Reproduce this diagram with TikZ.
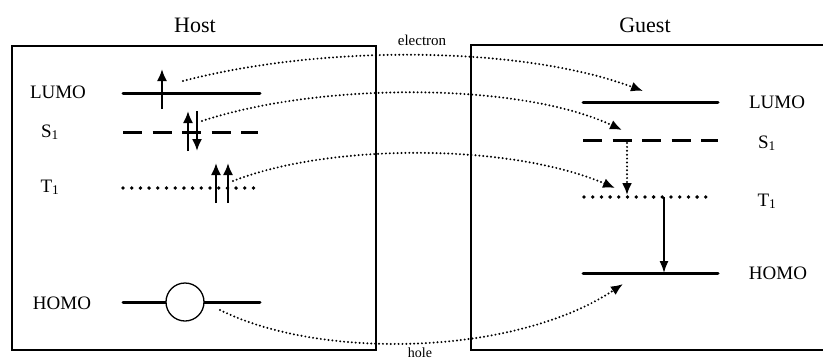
\documentclass[tikz,border=0pt]{standalone}
\usepackage{fontspec}
\setmainfont{Liberation Serif}
\usetikzlibrary{arrows.meta}
\begin{document}
\begin{tikzpicture}[x=1pt,y=-1pt,
  box/.style={line width=1.5pt},
  lvl/.style={line width=3pt, line cap=round},
  lvldash/.style={line width=3pt, dash pattern=on 19pt off 10.5pt},
  lvldot/.style={line width=3.8pt, line cap=round, dash pattern=on 0pt off 8.7pt},
  spin/.style={line width=2pt, -{Latex[length=12pt,width=10pt]}},
  transfer/.style={line width=2.2pt, line cap=round, dash pattern=on 0pt off 3.9pt, -{Latex[length=12pt,width=10pt]}},
  decay/.style={line width=1.6pt, -{Latex[length=12pt,width=9pt]}},
  lab/.style={font=\fontsize{19}{21}\selectfont, inner sep=0pt},
  ttl/.style={font=\fontsize{22}{24}\selectfont, inner sep=0pt},
  small/.style={font=\fontsize{15}{17}\selectfont, inner sep=0pt}
]
\useasboundingbox (0,0) rectangle (823,362);
\clip (0,0) rectangle (823,362);
\fill[white] (0,0) rectangle (823,362);

% boxes
\draw[box] (12,46) rectangle (376,350);
\draw[box] (835,45) -- (471,45) -- (471,350) -- (835,350);

% titles
\node[ttl] (host) at (195,25) {Host};
\node[ttl] (guest) at (645,25) {Guest};
\node[small] (electron) at (422,40) {electron};
\node[small, font=\fontsize{14}{15}\selectfont, anchor=base] (hole) at (420,357.5) {hole};

% host levels
\draw[lvl] (123,93) -- (260,93);
\draw[lvldash] (123,132) -- (258,132);
\draw[lvldot] (123,188) -- (254,188);
\draw[lvl] (123,302) -- (260,302);
\node[draw, circle, fill=white, line width=1.3pt, minimum size=38pt, inner sep=0pt] (holecirc) at (185,302) {};

% host labels
\node[lab] (hL) at (58,92) {LUMO};
\node[lab, anchor=base] (hS) at (50,137) {S\textsubscript{1}};
\node[lab, anchor=base] (hT) at (50,192) {T\textsubscript{1}};
\node[lab] (hH) at (62,303) {HOMO};

% guest levels
\draw[lvl] (583,102) -- (718,102);
\draw[lvldash] (583,140) -- (718,140);
\draw[lvldot] (584,197) -- (714,197);
\draw[lvl] (583,273) -- (718,273);

% guest labels
\node[lab] (gL) at (777,102) {LUMO};
\node[lab, anchor=base] (gS) at (767,148) {S\textsubscript{1}};
\node[lab, anchor=base] (gT) at (767,206) {T\textsubscript{1}};
\node[lab] (gH) at (778,273) {HOMO};

% spins in host
\coordinate (a1) at (162,109); \coordinate (a2) at (162,69);
\draw[spin] (a1) -- (a2);
\coordinate (b1) at (188,151); \coordinate (b2) at (188,111);
\draw[spin] (b1) -- (b2);
\coordinate (c1) at (197,111); \coordinate (c2) at (197,151);
\draw[spin] (c1) -- (c2);
\coordinate (d1) at (216,203); \coordinate (d2) at (216,163);
\draw[spin] (d1) -- (d2);
\coordinate (e1) at (228,203); \coordinate (e2) at (228,163);
\draw[spin] (e1) -- (e2);

% transfer curves
\coordinate (t1s) at (183,81);  \coordinate (t1e) at (643,91);
\draw[transfer] (t1s) .. controls (320,45) and (520,45) .. (t1e);
\coordinate (t2s) at (202,121); \coordinate (t2e) at (622,130);
\draw[transfer] (t2s) .. controls (320,82) and (520,82) .. (t2e);
\coordinate (t3s) at (233,181); \coordinate (t3e) at (615,188);
\draw[transfer] (t3s) .. controls (330,143) and (510,143) .. (t3e);
\coordinate (t4s) at (220,310); \coordinate (t4e) at (623,284);
\draw[transfer] (t4s) .. controls (320,360) and (515,356) .. (t4e);

% guest relaxation
\coordinate (isc1) at (627,143); \coordinate (isc2) at (627,195);
\draw[transfer] (isc1) -- (isc2);
\coordinate (ph1) at (664,197); \coordinate (ph2) at (664,273);
\draw[decay] (ph1) -- (ph2);
\end{tikzpicture}
\end{document}
